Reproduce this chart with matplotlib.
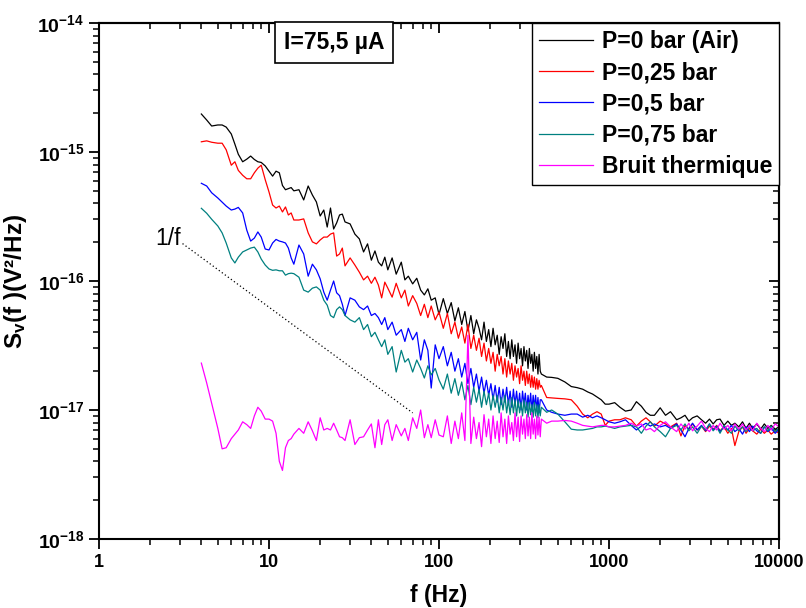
import numpy as np
import matplotlib
matplotlib.use("Agg")
import matplotlib.pyplot as plt
from matplotlib.ticker import FuncFormatter, LogLocator, NullFormatter

plt.rcParams["font.family"] = "Liberation Sans"
plt.rcParams["font.weight"] = "bold"
plt.rcParams["mathtext.fontset"] = "custom"
plt.rcParams["mathtext.rm"] = "Liberation Sans:bold"
plt.rcParams["mathtext.it"] = "Liberation Sans:bold"
plt.rcParams["mathtext.bf"] = "Liberation Sans:bold"

# frequency grid (Hz)
freq = [
    4.0, 4.3, 4.6, 5.0, 5.3, 5.6, 6.0, 6.3, 6.6, 7.0,
    7.4, 7.8, 8.2, 8.6, 9.0, 9.5, 10, 10.5, 11, 11.5,
    12, 12.5, 13, 13.5, 14, 15, 16, 17, 18, 19,
    20, 21, 22, 23, 24, 25, 26, 27, 28, 30,
    32, 34, 36, 38, 40, 42, 44, 46, 48, 50,
    53, 56, 60, 63, 66, 70, 74, 78, 82, 86,
    90, 95, 100,
    106, 112, 118, 124, 130, 136, 142, 148, 154, 160,
    166, 172, 178, 184, 190, 196, 202, 208, 214, 220,
    226, 232, 238, 244, 250, 256, 262, 268, 274, 280,
    286, 292, 298, 304, 310, 316, 322, 328, 334, 340,
    346, 352, 358, 364, 370, 376, 382, 388, 394, 400,
    430, 460, 500, 550, 600, 650, 700, 750, 800, 850,
    900, 950, 1000, 1080, 1160, 1250, 1350, 1450, 1550, 1650,
    1750, 1850, 2000, 2150, 2300, 2500, 2650, 2800, 2950, 3100,
    3300, 3500, 3700, 3900, 4100, 4300, 4500, 4750, 5000, 5250,
    5500, 5800, 6100, 6400, 6700, 7000, 7400, 7800, 8200, 8600,
    9000, 9500, 10000,
]

# spectral density, in units of 1e-17 V^2/Hz
s_air = [
    197, 177, 159, 162, 162, 156, 138, 115, 96, 84,
    88, 93, 87.5, 84, 83, 78, 71, 65, 71, 69,
    55, 51, 52, 53, 50, 51, 42.5, 54.5, 46.4, 41,
    31.9, 35.5, 26.2, 36.8, 25.3, 28.2, 32.5, 33, 28.7, 27.7,
    23.1, 21.2, 16.8, 19.4, 14.5, 17.1, 14, 13.1, 15.3, 12.2,
    15.1, 11.3, 14, 10.2, 10.9, 9.5, 10.5, 8.5, 7.8, 8.7,
    7.1, 7.4, 5.5,
    7.3, 5.6, 6.8, 4.9, 6.2, 4.6, 5.8, 4.1, 5.4, 3.9,
    5.0, 4.3, 3.5, 4.8, 3.4, 4.2, 3.1, 4.3, 3.2, 3.8,
    2.7, 3.7, 3.0, 3.9, 2.6, 3.4, 2.5, 3.5, 2.6, 3.2,
    2.3, 3.3, 2.5, 3.0, 2.2, 3.1, 2.4, 2.9, 2.1, 3.0,
    2.3, 2.7, 2.0, 2.8, 2.1, 2.6, 1.9, 2.7, 2.0, 1.9,
    1.80, 1.79, 1.76, 1.65, 1.52, 1.49, 1.45, 1.38, 1.33, 1.26,
    1.20, 1.11, 1.11, 1.14, 1.05, 0.98, 1.0, 1.16, 1.07, 0.96,
    0.91, 0.91, 1.04, 0.91, 0.97, 0.84, 0.87, 0.91, 0.82, 0.87,
    0.90, 0.84, 0.79, 0.85, 0.78, 0.84, 0.85, 0.76, 0.82, 0.76,
    0.79, 0.74, 0.81, 0.72, 0.79, 0.72, 0.78, 0.71, 0.78, 0.72,
    0.76, 0.71, 0.74,
]

s_025 = [
    120, 122, 119, 117, 117, 104, 79, 84, 72, 66,
    62, 62, 69, 75, 79, 61, 49, 38.8, 36.8, 38.1,
    34.3, 37.5, 32.5, 33.7, 29.7, 29.7, 30.3, 23.6, 20.1, 19.4,
    20.8, 21.9, 21.9, 23.1, 23.6, 15.6, 16.2, 18.0, 13.1, 15.1,
    13.3, 11.7, 10.2, 10.9, 9.6, 10.7, 9.3, 7.4, 9.8, 8.8,
    7.5, 9.6, 7.4, 8.5, 6.4, 7.7, 6.7, 5.4, 6.6, 5.2,
    6.4, 5.0, 5.75,
    4.3, 5.6, 3.9, 4.8, 3.6, 4.4, 3.3, 4.6, 3.0, 3.8,
    2.9, 3.6, 2.6, 3.3, 2.4, 3.0, 2.3, 2.8, 2.0, 2.7,
    2.2, 2.6, 1.9, 2.5, 1.8, 2.4, 1.9, 2.3, 1.7, 2.2,
    1.8, 2.1, 1.6, 2.2, 1.7, 2.0, 1.55, 2.0, 1.6, 1.9,
    1.5, 1.85, 1.5, 1.8, 1.45, 1.75, 1.45, 1.7, 1.5, 1.55,
    1.25, 1.24, 1.23, 1.22, 1.20, 1.07, 0.93, 0.87, 0.93, 0.97,
    0.93, 0.76, 0.82, 0.84, 0.84, 0.87, 0.84, 0.75, 0.82, 0.87,
    0.81, 0.75, 0.82, 0.78, 0.74, 0.79, 0.63, 0.76, 0.71, 0.78,
    0.70, 0.75, 0.68, 0.75, 0.71, 0.76, 0.69, 0.74, 0.66, 0.72,
    0.53, 0.68, 0.74, 0.66, 0.72, 0.69, 0.65, 0.71, 0.66, 0.70,
    0.65, 0.69, 0.66,
]

s_05 = [
    57.2, 54.5, 48.3, 44.0, 40.9, 38.1, 35.5, 36.1, 37.2, 33.7,
    24.8, 20.4, 21.5, 24.0, 21.9, 17.7, 17.4, 19.7, 21.0, 20.4,
    20.1, 19.7, 18.0, 15.1, 13.5, 19.0, 16.2, 10.9, 13.5, 12.2,
    10.4, 8.2, 7.1, 8.5, 10.0, 8.1, 7.7, 6.6, 5.4, 7.4,
    7.1, 6.3, 6.0, 6.4, 5.4, 5.6, 5.2, 4.6, 5.2, 4.2,
    4.8, 3.8, 4.2, 3.4, 4.3, 3.5, 4.0, 2.44, 3.5, 2.9,
    1.48, 3.2, 2.5,
    3.1, 2.2, 2.8, 2.0, 2.5, 1.8, 2.3, 1.6, 2.1, 1.5,
    1.9, 1.4, 1.8, 1.35, 1.7, 1.3, 1.6, 1.2, 1.55, 1.15,
    1.5, 1.1, 1.45, 1.15, 1.5, 1.1, 1.4, 1.05, 1.45, 1.1,
    1.4, 1.05, 1.35, 1.0, 1.4, 1.1, 1.35, 1.0, 1.3, 1.05,
    1.35, 0.98, 1.3, 1.05, 1.3, 1.0, 1.25, 0.95, 1.2, 1.2,
    1.0, 0.96, 0.93, 0.91, 0.93, 0.93, 0.88, 0.91, 0.87, 0.90,
    0.87, 0.84, 0.81, 0.79, 0.81, 0.84, 0.76, 0.70, 0.75, 0.79,
    0.75, 0.78, 0.74, 0.76, 0.72, 0.78, 0.70, 0.62, 0.72, 0.79,
    0.70, 0.76, 0.69, 0.78, 0.70, 0.75, 0.68, 0.74, 0.70, 0.76,
    0.68, 0.72, 0.65, 0.74, 0.68, 0.75, 0.69, 0.66, 0.74, 0.68,
    0.72, 0.66, 0.71,
]

s_075 = [
    36.6, 33.5, 30.1, 26.7, 23.6, 19.7, 15.1, 13.8, 15.3, 16.8,
    17.4, 18.0, 18.3, 16.8, 14.8, 13.3, 12.4, 12.1, 12.2, 12.0,
    12.0, 11.1, 11.4, 11.5, 11.4, 10.7, 8.5, 8.2, 8.8, 9.0,
    8.5, 7.1, 6.5, 5.4, 5.2, 6.0, 6.3, 6.0, 5.4, 5.0,
    4.8, 5.2, 4.2, 4.6, 3.7, 4.0, 3.5, 3.1, 3.5, 2.7,
    3.1, 1.97, 2.9, 2.35, 2.5, 1.97, 2.44, 2.1, 1.77, 2.2,
    1.87, 2.1, 1.71,
    1.45, 1.9, 1.35, 1.75, 1.3, 1.65, 1.2, 1.55, 1.1, 1.5,
    1.15, 1.45, 1.05, 1.4, 1.1, 1.35, 1.0, 1.3, 1.05, 1.3,
    0.95, 1.25, 1.0, 1.3, 0.95, 1.2, 0.92, 1.25, 0.95, 1.2,
    0.9, 1.2, 0.95, 1.15, 0.9, 1.2, 0.95, 1.15, 0.88, 1.15,
    0.92, 1.1, 0.88, 1.15, 0.9, 1.1, 0.87, 1.1, 0.9, 1.05,
    0.96, 1.0, 0.93, 0.81, 0.71, 0.70, 0.70, 0.71, 0.72, 0.74,
    0.74, 0.75, 0.74, 0.72, 0.74, 0.75, 0.76, 0.74, 0.66, 0.75,
    0.81, 0.74, 0.68, 0.62, 0.72, 0.76, 0.70, 0.78, 0.69, 0.74,
    0.66, 0.75, 0.70, 0.78, 0.69, 0.74, 0.66, 0.76, 0.70, 0.66,
    0.75, 0.69, 0.74, 0.68, 0.75, 0.69, 0.72, 0.66, 0.74, 0.69,
    0.75, 0.68, 0.72,
]

s_thermal = [
    2.31, 1.62, 1.13, 0.72, 0.50, 0.51, 0.60, 0.65, 0.70, 0.81,
    0.77, 0.72, 0.90, 1.05, 0.98, 0.85, 0.85, 0.82, 0.66, 0.40,
    0.34, 0.51, 0.58, 0.60, 0.65, 0.72, 0.66, 0.81, 0.69, 0.58,
    0.87, 0.70, 0.72, 0.70, 0.79, 0.70, 0.62, 0.61, 0.58, 0.84,
    0.54, 0.61, 0.62, 0.70, 0.78, 0.51, 0.84, 0.54, 0.77, 0.84,
    0.58, 0.77, 0.63, 0.72, 0.58, 0.87, 0.72, 1.0, 0.61, 0.77,
    0.61, 0.84, 0.64,
    0.62, 0.9, 0.55, 0.82, 0.6, 0.95, 0.58, 3.8, 0.55, 0.88,
    0.6, 0.8, 0.52, 0.92, 0.62, 0.85, 0.55, 0.9, 0.6, 0.82,
    0.56, 0.95, 0.62, 0.85, 0.55, 0.9, 0.65, 0.8, 0.58, 0.95,
    0.62, 0.88, 0.57, 0.9, 0.65, 0.85, 0.6, 0.92, 0.63, 0.88,
    0.6, 0.95, 0.65, 0.85, 0.6, 0.9, 0.64, 0.88, 0.62, 0.85,
    0.79, 0.82, 0.82, 0.83, 0.82, 0.79, 0.76, 0.75, 0.74, 0.75,
    0.76, 0.76, 0.74, 0.74, 0.75, 0.76, 0.79, 0.75, 0.78, 0.70,
    0.72, 0.68, 0.76, 0.81, 0.74, 0.68, 0.78, 0.71, 0.79, 0.69,
    0.75, 0.82, 0.72, 0.68, 0.76, 0.70, 0.79, 0.71, 0.76, 0.69,
    0.78, 0.71, 0.78, 0.70, 0.76, 0.69, 0.79, 0.72, 0.68, 0.76,
    0.70, 0.78, 0.74,
]

labels = ["P=0 bar (Air)", "P=0,25 bar", "P=0,5 bar", "P=0,75 bar", "Bruit thermique"]
colors = ["#000000", "#ff0000", "#0000ff", "#008080", "#ff00ff"]

x_ticks = [1, 10, 100, 1000, 10000]
y_ticks = [1e-18, 1e-17, 1e-16, 1e-15, 1e-14]

# 1/f guide line end points
onef_f = [3.1, 70]
onef_s = [19.5, 0.95]

unit = 1e-17

fig = plt.figure(figsize=(8.06, 6.08), dpi=100)
ax = fig.add_axes([99 / 806, 1 - 539 / 608, 680 / 806, 516 / 608])

for vals, c, lab in zip([s_air, s_025, s_05, s_075, s_thermal], colors, labels):
    ax.plot(freq, np.array(vals) * unit, color=c, lw=0.9, label=lab)

ax.plot(onef_f, np.array(onef_s) * unit, color="black", lw=0.9, ls=(0, (1, 2)))
ax.text(onef_f[0] * 0.98, onef_s[0] * unit * 1.1, "1/f", fontsize=16.5,
        fontweight="normal", ha="right", va="center")

ax.set_xscale("log")
ax.set_yscale("log")
ax.set_xlim(x_ticks[0], x_ticks[-1])
ax.set_ylim(y_ticks[0], y_ticks[-1])
ax.set_xticks(x_ticks)
ax.set_yticks(y_ticks)
ax.set_xticklabels([str(t) for t in x_ticks])
ax.set_yticklabels([r"$10^{%d}$" % round(np.log10(t)) for t in y_ticks])

for a in (ax.xaxis, ax.yaxis):
    a.set_minor_locator(LogLocator(base=10, subs=np.arange(2, 10), numticks=20))
    a.set_minor_formatter(NullFormatter())
ax.tick_params(which="major", direction="out", length=7, width=1.3, labelsize=13)
ax.tick_params(axis="y", which="major", labelsize=14)
ax.tick_params(which="minor", direction="out", length=4, width=1.1)

ax.set_xlabel("f (Hz)", fontsize=16.5, fontweight="bold", labelpad=10)
ax.set_ylabel(r"S$_v$(f )(V²/Hz)", fontsize=17.5, fontweight="bold", labelpad=6)

# mirrored ticks pointing inward on top and right
top = ax.secondary_xaxis("top")
right = ax.secondary_yaxis("right")
top.set_xticks(x_ticks)
right.set_yticks(y_ticks)
for sec in (top, right):
    sec.tick_params(which="major", direction="in", length=7, width=1.3,
                    labeltop=False, labelright=False)
    sec.tick_params(which="minor", direction="in", length=4, width=1.1)
top.xaxis.set_minor_locator(LogLocator(base=10, subs=np.arange(2, 10), numticks=20))
right.yaxis.set_minor_locator(LogLocator(base=10, subs=np.arange(2, 10), numticks=20))
top.xaxis.set_minor_formatter(NullFormatter())
right.yaxis.set_minor_formatter(NullFormatter())

for s in ax.spines.values():
    s.set_linewidth(1.5)
top.spines["top"].set_linewidth(1.5)
right.spines["right"].set_linewidth(1.5)

leg = ax.legend(loc="upper right", bbox_to_anchor=(1, 1),
                borderaxespad=0, frameon=True, fancybox=False, edgecolor="black",
                framealpha=1, prop=dict(weight="bold", size=16.5), handlelength=2.35,
                labelspacing=0.36, borderpad=0.3, handletextpad=0.4)
leg.get_frame().set_linewidth(1.0)
leg.set_zorder(10)

ax.text(0.3456, 0.962, "I=75,5 µA", transform=ax.transAxes, fontsize=16.5,
        fontweight="bold", ha="center", va="center", zorder=10,
        bbox=dict(boxstyle="square,pad=0.38", fc="white", ec="black", lw=1.2))

fig.savefig("out.png", dpi=100)
